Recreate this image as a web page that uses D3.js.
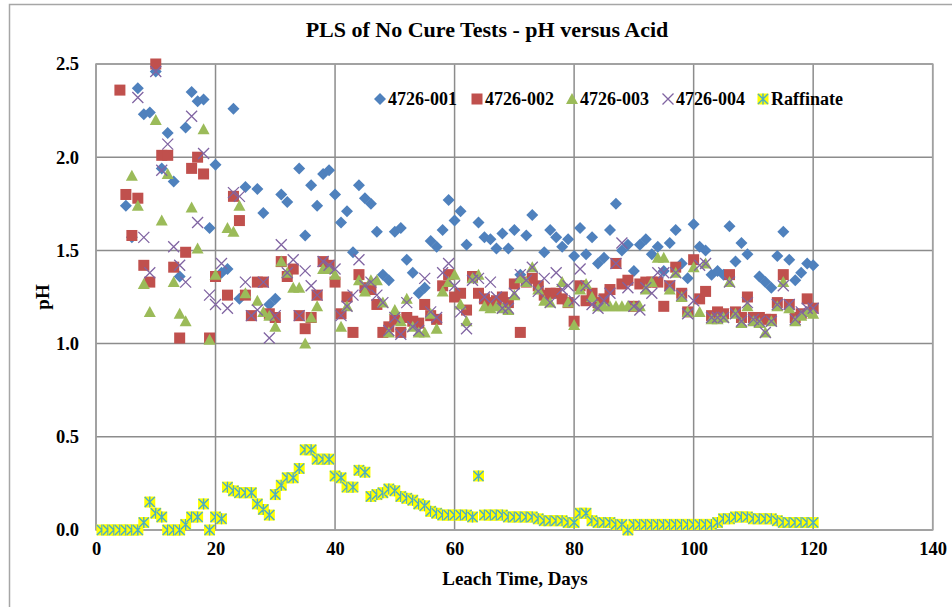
<!DOCTYPE html>
<html>
<head>
<meta charset="utf-8">
<script src="https://cdn.jsdelivr.net/npm/d3@7"></script>
<style>
body{margin:0;background:#fff;}
text{font-family:"Liberation Serif","Times New Roman",serif;font-weight:bold;fill:#000;}
</style>
</head>
<body>
<div id="chart"></div>
<script>
// pH readings by leach day (null = no point)
var days001 = d3.range(5,121);
var ph001 = [1.74,1.57,2.37,2.23,2.24,2.46,1.94,2.13,1.87,1.36,2.16,2.35,2.30,2.31,1.62,1.96,1.38,1.40,2.26,1.24,
1.84,null,1.83,1.70,1.21,1.24,1.80,1.76,null,1.94,1.58,1.85,1.74,1.91,1.93,1.80,1.65,1.71,1.49,1.85,
1.78,1.75,1.60,1.37,1.34,1.60,1.62,1.45,1.38,1.27,1.30,1.55,1.52,1.61,1.77,1.66,1.71,1.53,null,1.65,
1.57,1.56,1.51,1.59,1.51,1.61,1.37,1.58,1.69,null,1.49,1.61,1.57,1.52,1.56,1.47,1.62,1.48,1.57,1.43,
1.46,1.61,1.75,1.50,1.53,1.39,1.53,1.56,1.48,1.52,1.39,1.54,1.61,1.43,1.35,1.64,1.52,1.50,1.37,1.39,
1.37,1.63,1.44,1.54,1.48,null,1.36,1.33,1.30,1.47,1.60,1.45,1.34,1.38,1.43,1.42];

var days002 = d3.range(4,121);
var ph002 = [2.36,1.80,1.58,1.78,1.42,1.33,2.50,2.01,2.01,1.41,1.03,1.49,1.94,2.00,1.91,1.03,1.36,null,1.26,1.79,
1.66,1.26,1.15,1.33,1.33,1.16,1.14,1.44,1.36,1.40,1.15,1.08,1.14,1.26,1.44,1.42,1.33,1.16,1.25,1.06,
1.37,1.30,1.29,1.21,1.06,1.09,1.13,1.06,1.14,1.12,1.11,1.21,1.15,1.13,1.31,1.37,1.25,1.27,1.18,1.36,
1.27,1.24,1.22,1.23,1.25,1.22,1.32,1.06,1.33,1.35,1.31,1.26,1.27,1.27,1.24,1.22,1.12,1.31,1.23,1.27,
1.22,1.24,1.29,1.43,1.32,1.34,1.20,1.32,1.33,1.33,1.33,1.20,1.31,1.41,1.27,1.17,1.45,1.24,1.28,1.15,
1.17,1.16,1.37,1.17,1.14,1.25,1.14,1.14,1.13,1.13,1.22,1.37,1.21,1.14,1.16,1.24,1.19];

var days003 = d3.range(6,121);
var ph003 = [1.90,1.74,1.32,1.17,2.20,1.66,1.91,1.33,1.16,1.12,1.73,1.51,2.15,1.02,1.37,null,1.62,1.60,1.74,1.27,
null,1.23,1.17,1.15,1.09,1.44,1.38,1.30,1.30,1.00,1.14,1.20,1.40,1.40,1.37,1.09,1.20,null,1.34,1.28,
1.34,1.34,1.22,1.06,1.18,1.12,1.24,1.09,1.06,1.06,1.16,1.08,1.28,1.33,1.37,1.21,1.12,1.35,1.37,1.20,
1.19,1.20,1.19,1.18,1.26,1.35,1.33,1.41,1.29,1.23,1.22,null,1.33,1.22,1.10,1.29,1.32,1.25,1.20,1.20,
1.20,1.20,1.20,1.20,1.20,1.20,1.29,1.33,1.46,1.46,1.29,1.38,1.25,1.17,1.41,1.17,1.43,1.13,1.13,1.14,
1.33,1.16,1.11,1.20,1.12,1.11,1.06,1.12,1.20,1.33,1.19,1.12,1.15,1.17,1.16];

var days004 = d3.range(7,121);
var ph004 = [2.32,1.57,1.38,2.46,1.93,2.07,1.52,1.42,1.33,2.22,1.65,2.02,1.26,1.21,1.43,1.19,1.81,1.79,1.33,1.15,
1.18,1.33,1.03,1.15,1.53,1.38,1.45,1.15,1.39,1.31,1.26,1.44,1.42,1.40,1.15,1.20,1.26,1.45,1.31,1.33,
1.26,1.22,1.07,1.14,1.05,1.22,1.09,1.07,1.35,1.17,1.14,1.38,1.43,1.31,1.17,1.08,1.34,1.35,1.25,1.33,
1.25,1.19,1.19,1.27,1.37,1.34,1.41,1.28,1.35,1.22,1.38,1.29,1.31,1.23,1.40,1.31,1.21,1.19,1.23,1.27,
1.43,1.54,1.30,1.20,1.18,1.30,1.27,1.38,1.38,1.31,1.38,1.26,1.16,1.23,1.42,1.43,1.14,1.14,1.14,1.33,
1.16,1.12,1.22,1.13,1.12,1.06,1.12,1.21,1.31,1.21,1.13,1.17,1.19,1.19];

var daysRaf = d3.range(1,121);
var phRaf = [0.00,0.00,0.00,0.00,0.00,0.00,0.00,0.04,0.15,0.09,0.07,0.00,0.00,0.00,0.03,0.07,0.07,0.14,0.00,0.07,
0.06,0.23,0.21,0.20,0.20,0.20,0.14,0.11,0.08,0.19,0.24,0.28,0.28,0.33,0.43,0.43,0.38,0.38,0.38,0.29,
0.28,0.23,0.23,0.32,0.31,0.18,0.19,0.20,0.22,0.21,0.18,0.17,0.16,0.14,0.13,0.10,0.09,0.08,0.08,0.08,
0.08,0.08,0.07,0.29,0.08,0.08,0.08,0.08,0.07,0.07,0.07,0.07,0.07,0.06,0.05,0.05,0.05,0.05,0.04,0.04,
0.09,0.09,0.05,0.04,0.04,0.04,0.03,0.03,0.00,0.03,0.03,0.03,0.03,0.03,0.03,0.03,0.03,0.03,0.03,0.03,
0.03,0.03,0.03,0.04,0.06,0.06,0.07,0.07,0.07,0.06,0.06,0.06,0.06,0.05,0.04,0.04,0.04,0.04,0.04,0.04];

var seriesNames = ["4726-001","4726-002","4726-003","4726-004","Raffinate"];
var xTicks = [0,20,40,60,80,100,120,140];
var yTicks = [0.0,0.5,1.0,1.5,2.0,2.5];

function draw(){
	var W = 952, H = 607;
	var pLeft = 96, pRight = 932.7, pTop = 64, pBottom = 530;

	var x = d3.scaleLinear().domain([0,140]).range([pLeft,pRight]);
	var y = d3.scaleLinear().domain([0,2.5]).range([pBottom,pTop]);

	var svg = d3.select("#chart").append("svg")
		.attr("width",W).attr("height",H);

	// outer chart frame
	svg.append("rect")
		.attr("x",9.5).attr("y",4.5)
		.attr("width",W+10).attr("height",H+10)
		.attr("fill","none").attr("stroke","#a6a6a6").attr("stroke-width",1.5);

	svg.append("text")
		.attr("x",487).attr("y",37)
		.attr("text-anchor","middle")
		.style("font-size","22px")
		.text("PLS of No Cure Tests - pH versus Acid");

	// grid
	svg.append("g").selectAll("line").data(xTicks).enter().append("line")
		.attr("x1",function(d){return x(d);}).attr("x2",function(d){return x(d);})
		.attr("y1",pTop).attr("y2",pBottom)
		.attr("stroke","#8c8c8c").attr("stroke-width",1.5);
	svg.append("g").selectAll("line").data(yTicks).enter().append("line")
		.attr("x1",pLeft).attr("x2",pRight)
		.attr("y1",function(d){return y(d);}).attr("y2",function(d){return y(d);})
		.attr("stroke","#8c8c8c").attr("stroke-width",1.5);

	svg.append("rect")
		.attr("x",pLeft).attr("y",pTop)
		.attr("width",pRight-pLeft).attr("height",pBottom-pTop)
		.attr("fill","none").attr("stroke","#a0a0a0").attr("stroke-width",1.5);

	var xAxis = d3.axisBottom(x).tickValues(xTicks).tickSize(0).tickPadding(12);
	var yAxis = d3.axisLeft(y).tickValues(yTicks).tickSize(0).tickPadding(17).tickFormat(d3.format(".1f"));

	svg.append("g")
		.attr("transform","translate(0,"+pBottom+")")
		.call(xAxis)
		.call(function(g){g.select(".domain").remove();})
		.selectAll("text")
		.style("font-size","18.5px")
		.style("font-family","Liberation Serif, serif")
		.style("font-weight","bold");

	svg.append("g")
		.attr("transform","translate("+pLeft+",0)")
		.call(yAxis)
		.call(function(g){g.select(".domain").remove();})
		.selectAll("text")
		.style("font-size","18.5px")
		.style("font-family","Liberation Serif, serif")
		.style("font-weight","bold");

	svg.append("text")
		.attr("x",515).attr("y",585)
		.attr("text-anchor","middle")
		.style("font-size","19px")
		.text("Leach Time, Days");

	svg.append("text")
		.attr("text-anchor","middle")
		.attr("transform","translate(49,297)rotate(-90)")
		.style("font-size","19px")
		.text("pH");

	// marker shapes
	function diamond(g){
		g.append("path").attr("d","M0,-6L6,0L0,6L-6,0Z").attr("fill","#4f81bd");
	}
	function square(g){
		g.append("rect").attr("x",-5.5).attr("y",-5.5).attr("width",11).attr("height",11).attr("fill","#c0504d");
	}
	function triangle(g){
		g.append("path").attr("d","M0,-6L6,5L-6,5Z").attr("fill","#9bbb59");
	}
	function cross(g){
		g.append("path").attr("d","M-5.5,-5.5L5.5,5.5M-5.5,5.5L5.5,-5.5")
			.attr("stroke","#8064a2").attr("stroke-width",1.3).attr("fill","none");
	}
	function star(g){
		g.append("rect").attr("x",-5.5).attr("y",-5.5).attr("width",11).attr("height",11).attr("fill","#ffff00");
		g.append("path").attr("d","M-5,-5L5,5M-5,5L5,-5M0,-5.5L0,5.5")
			.attr("stroke","#4bacc6").attr("stroke-width",1.4).attr("fill","none");
	}

	var series = [
		{days:days001, vals:ph001, draw:diamond},
		{days:days002, vals:ph002, draw:square},
		{days:days003, vals:ph003, draw:triangle},
		{days:days004, vals:ph004, draw:cross},
		{days:daysRaf, vals:phRaf, draw:star}
	];

	series.forEach(function(s){
		var pts = s.days.map(function(d,i){return {day:d, v:s.vals[i]};})
			.filter(function(p){return p.v!=null;});
		svg.append("g").selectAll("g").data(pts).enter().append("g")
			.attr("transform",function(p){return "translate("+x(p.day)+","+y(p.v)+")";})
			.each(function(){ s.draw(d3.select(this)); });
	});

	// legend
	var legX = [380,477,572,668,763];
	var leg = svg.append("g");
	seriesNames.forEach(function(n,i){
		var g = leg.append("g").attr("transform","translate("+legX[i]+",99)");
		series[i].draw(g);
		g.append("text").attr("x",8).attr("y",6)
			.style("font-size","18px")
			.text(n);
	});
}
draw();
</script>
</body>
</html>
